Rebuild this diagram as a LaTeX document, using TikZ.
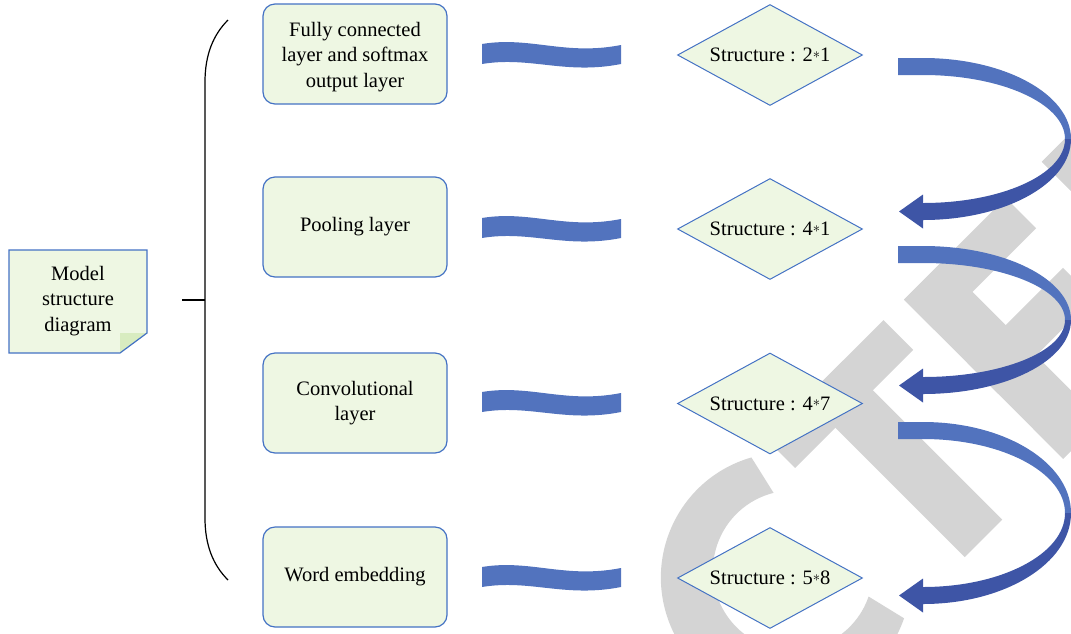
\documentclass[tikz,border=0pt]{standalone}
\usepackage{fontspec}
\setmainfont{Liberation Serif}
\usetikzlibrary{shapes.geometric}
\definecolor{boxfill}{RGB}{238,247,227}
\definecolor{foldfill}{RGB}{216,236,192}
\definecolor{border}{RGB}{68,114,196}
\definecolor{lightblue}{RGB}{82,115,190}
\definecolor{darkblue}{RGB}{62,85,166}
\definecolor{wm}{RGB}{212,212,212}
\newcommand\smallast{\raisebox{0.35ex}{\scalebox{0.7}{$\ast$}}}
\newcommand\wavebar[1]{%
  \fill[lightblue] (482,#1-10) .. controls (530,#1-18) and (565,#1+2) .. (621,#1-9)
    -- (621,#1+10) .. controls (565,#1+21) and (530,#1+2) .. (482,#1+10) -- cycle;}
\newcommand\carrow[2]{%
  \pgfmathsetmacro\cy{(#1+#2)/2}%
  \pgfmathsetmacro\ryo{(#2-#1)/2}%
  \pgfmathsetmacro\ryi{\ryo-17}%
  \fill[lightblue] (898,#1) -- (923,#1) .. controls (1004.7,#1) and (1071,\cy-0.5523*\ryo) .. (1071,\cy)
    -- (1065,\cy) .. controls (1065,\cy-0.5523*\ryi) and (1001.4,\cy-\ryi) .. (923,\cy-\ryi)
    -- (898,\cy-\ryi) -- cycle;
  \fill[darkblue] (1065,\cy) .. controls (1065,\cy+0.5523*\ryi) and (1001.4,\cy+\ryi) .. (923,\cy+\ryi)
    -- (923,#2-25.5) -- (899,#2-8.5) -- (923,#2+8.5) -- (923,#2)
    .. controls (1004.7,#2) and (1071,\cy+0.5523*\ryo) .. (1071,\cy) -- cycle;}
\begin{document}
\begin{tikzpicture}[x=1pt,y=-1pt,
  txt/.style={font=\fontsize{20.5}{25.5}\selectfont, align=center, text=black},
  layerbox/.style={txt, draw=border, line width=1.2pt, fill=boxfill, rounded corners=12pt,
    minimum width=184pt, minimum height=100pt, inner sep=0pt},
  structbox/.style={txt, shape=diamond, aspect=1.83, draw=border, line width=1pt, fill=boxfill,
    minimum width=185pt, minimum height=101pt, inner sep=0pt},
  bracketline/.style={draw=black, line width=1.2pt}]
\useasboundingbox (0,0) rectangle (1071,633);
\clip (0,0) rectangle (1071,633);
% watermark
\begin{scope}[shift={(800,620)}, rotate=45, x=1pt, y=1pt]
  \fill[wm] (80.6,149.3) arc[start angle=61,end angle=296,radius=125] -- (65.1,-31.9)
     arc[start angle=296,end angle=59,radius=80] -- cycle;
  \fill[wm] (104,111) rectangle (271,153);
  \fill[wm] (161,-72) rectangle (214,153);
  \fill[wm] (300,-72) rectangle (354,153);
  \fill[wm] (300,110) rectangle (444,153);
  \fill[wm] (300,20) rectangle (435,63);
  \fill[wm] (300,-72) rectangle (450,-30);
  \fill[wm] (495,-72) rectangle (549,153);
  \fill[wm] (495,110) rectangle (600,153);
\end{scope}
% model note
\fill[boxfill] (9,250) -- (147,250) -- (147,333) -- (120,353) -- (9,353) -- cycle;
\fill[foldfill] (120,333) -- (147,333) -- (120,353) -- cycle;
\draw[border, line width=1.2pt] (9,250) -- (147,250) -- (147,333) -- (120,353) -- (9,353) -- cycle;
\node[txt, inner sep=0pt] (model) at (78,301) {Model\\structure\\diagram};
% bracket
\coordinate (tickL) at (182,300);
\coordinate (tickR) at (205,300);
\draw[bracketline] (tickL) -- (tickR);
\draw[bracketline] (228,20) .. controls (213,35) and (205,55) .. (205,82) -- (205,518)
  .. controls (205,545) and (213,565) .. (228,580);
% layer boxes
\node[layerbox] (fc) at (355,54) {\rule{0pt}{20pt}Fully connected\\layer and softmax\\output layer};
\node[layerbox] (pool) at (355,227) {Pooling layer};
\node[layerbox] (conv) at (355,403) {Convolutional\\layer};
\node[layerbox] (emb) at (355,577) {Word embedding};
% waves
\wavebar{54}
\wavebar{228}
\wavebar{402}
\wavebar{577}
% diamonds
\node[structbox] (s1) at (770,55) {Structure : 2\smallast1};
\node[structbox] (s2) at (770,229) {Structure : 4\smallast1};
\node[structbox] (s3) at (770,403.5) {Structure : 4\smallast7};
\node[structbox] (s4) at (770,578) {Structure : 5\smallast8};
% curved arrows
\carrow{58}{220}
\carrow{246}{394}
\carrow{422}{604}
\end{tikzpicture}
\end{document}
